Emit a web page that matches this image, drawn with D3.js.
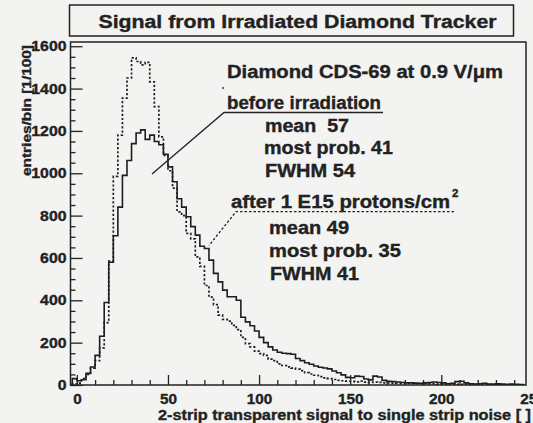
<!DOCTYPE html>
<html lang="en">
<head>
    <meta charset="UTF-8">
    <title>Signal from Irradiated Diamond Tracker</title>
    <style>
        body { margin: 0; background: #f3f3f1; }
        svg { display: block; font-family: "Liberation Sans", Arial, sans-serif; font-weight: bold; }
        svg text { stroke: #222; stroke-width: 0.35px; white-space: pre; }
        .axis text { font-family: "Liberation Sans", Arial, sans-serif; font-weight: bold; fill: #222; }
        .axis line { stroke: #222; stroke-width: 1.3; }
        .note { font-size: 18px; fill: #222; }
    </style>
</head>
<body>
    <svg width="533" height="423"></svg>
    <script src="https://cdn.jsdelivr.net/npm/d3@7"></script>
    <script>
        // histogram binning (signal/noise units)
        var binStart = -2.5,
            binWidth = 2.5;

        // entries per bin, before irradiation (solid)
        var beforeCounts = [30, 20, 25, 55, 85, 140, 230, 390, 580, 705,
            840, 990, 1060, 1140, 1190, 1205, 1160, 1180, 1150, 1135,
            1090, 1030, 960, 880, 840, 795, 748, 708, 655,
            645, 590, 527, 487, 448, 417, 417, 400, 320, 298,
            280, 255, 225, 200, 180, 165, 155, 150, 148, 145,
            125, 115, 105, 98, 90, 84, 80, 76, 66, 58,
            48, 36, 34, 42, 40, 28, 24, 42, 38, 22,
            18, 16, 14, 12, 10, 10, 9, 8, 10, 12,
            14, 12, 10, 6, 8, 16, 18, 10, 6, 5,
            6, 8, 5, 4, 6, 4, 3, 4, 3, 2];

        // entries per bin, after 1E15 protons/cm2 (dashed)
        var afterCounts = [5, 9, 30, 50, 80, 115, 175, 295, 585, 985,
            1180, 1355, 1450, 1545, 1528, 1512, 1524, 1432, 1315, 1172,
            1085, 1012, 930, 818, 800, 716, 690, 605, 560,
            470, 415, 380, 330, 310, 302, 282, 262, 225, 195,
            180, 160, 148, 140, 122, 115, 100, 92, 86, 80,
            75, 68, 58, 52, 46, 40, 34, 30, 26, 22,
            20, 18, 17, 15, 18, 14, 12, 14, 12, 10,
            10, 9, 8, 8, 7, 7, 6, 6, 6, 5,
            5, 4, 5, 4, 4, 3, 3, 4, 3, 2,
            2, 3, 2, 2, 1, 1, 1, 1, 1, 0];

        var xMajor = [0, 50, 100, 150, 200, 250],
            xMinor = [10, 20, 30, 40, 60, 70, 80, 90, 110, 120, 130, 140, 160, 170, 180, 190, 210, 220, 230, 240],
            yMajor = [0, 200, 400, 600, 800, 1000, 1200, 1400, 1600],
            yMinor = [50, 100, 150, 250, 300, 350, 450, 500, 550, 650, 700, 750, 850, 900, 950,
                      1050, 1100, 1150, 1250, 1300, 1350, 1450, 1500, 1550];

        var svg = d3.select("svg"),
            frame = {left: 70.5, top: 42, right: 526, bottom: 385};

        var x = d3.scaleLinear().domain([-3.5, 246.5]).range([frame.left, frame.right]),
            y = d3.scaleLinear().domain([0, 1620]).range([frame.bottom, frame.top]);

        // title box
        svg.append("rect")
            .attr("x", 69.5).attr("y", 5)
            .attr("width", 444).attr("height", 31)
            .attr("fill", "none").attr("stroke", "#222").attr("stroke-width", 1.5);

        svg.append("text")
            .attr("x", 98.5).attr("y", 28)
            .attr("font-size", 17.5).attr("fill", "#222")
            .attr("textLength", 398).attr("lengthAdjust", "spacingAndGlyphs")
            .text("Signal from Irradiated Diamond Tracker");

        svg.append("clipPath").attr("id", "plotclip")
            .append("rect")
            .attr("x", frame.left).attr("y", frame.top)
            .attr("width", frame.right - frame.left).attr("height", frame.bottom - frame.top);

        // step outline for a histogram
        function stepPoints(counts) {
            var pts = [[binStart, 0]];
            counts.forEach(function(c, i) {
                var lo = binStart + i * binWidth;
                pts.push([lo, c], [lo + binWidth, c]);
            });
            pts.push([binStart + counts.length * binWidth, 0]);
            return pts;
        }

        var line = d3.line()
            .x(function(d) { return x(d[0]); })
            .y(function(d) { return y(d[1]); });

        var plot = svg.append("g").attr("clip-path", "url(#plotclip)");

        plot.append("path")
            .attr("d", line(stepPoints(afterCounts)))
            .attr("fill", "none").attr("stroke", "#1e1e1e")
            .attr("stroke-width", 1.7).attr("stroke-dasharray", "2.2,2");

        plot.append("path")
            .attr("d", line(stepPoints(beforeCounts)))
            .attr("fill", "none").attr("stroke", "#1e1e1e")
            .attr("stroke-width", 1.6);

        // axes: ticks point inward like PAW
        var xAxis = svg.append("g").attr("class", "axis")
            .attr("transform", "translate(0," + frame.bottom + ")")
            .call(d3.axisBottom(x).tickValues(xMajor).tickSize(-10).tickPadding(9).tickFormat(d3.format("d")));
        xAxis.selectAll(".tick text")
            .attr("font-size", 14)
            .attr("textLength", function(d) { return String(d).length * 8.5; })
            .attr("lengthAdjust", "spacingAndGlyphs");
        xAxis.selectAll(".tick line").filter(function(d) { return d > 246.5; }).remove();

        svg.append("g").attr("class", "axis")
            .attr("transform", "translate(0," + frame.bottom + ")")
            .call(d3.axisBottom(x).tickValues(xMinor).tickSize(-5).tickFormat(""));

        var yAxis = svg.append("g").attr("class", "axis")
            .attr("transform", "translate(" + frame.left + ",0)")
            .call(d3.axisLeft(y).tickValues(yMajor).tickSize(-12).tickPadding(4).tickFormat(d3.format("d")));
        yAxis.selectAll(".tick text")
            .attr("font-size", 14)
            .attr("textLength", function(d) { return String(d).length * 8.8; })
            .attr("lengthAdjust", "spacingAndGlyphs");

        svg.append("g").attr("class", "axis")
            .attr("transform", "translate(" + frame.left + ",0)")
            .call(d3.axisLeft(y).tickValues(yMinor).tickSize(-5).tickFormat(""));

        svg.selectAll(".axis .domain").remove();

        // plot frame
        svg.append("rect")
            .attr("x", frame.left).attr("y", frame.top)
            .attr("width", frame.right - frame.left).attr("height", frame.bottom - frame.top)
            .attr("fill", "none").attr("stroke", "#222").attr("stroke-width", 1.5);

        // axis titles
        svg.append("text")
            .attr("x", 531).attr("y", 420)
            .attr("text-anchor", "end")
            .attr("font-size", 14).attr("fill", "#222")
            .attr("textLength", 373).attr("lengthAdjust", "spacingAndGlyphs")
            .text("2-strip transparent signal to single strip noise [ ]");

        svg.append("text")
            .attr("transform", "translate(31,176) rotate(-90)")
            .attr("font-size", 13.5).attr("fill", "#222")
            .attr("textLength", 131).attr("lengthAdjust", "spacingAndGlyphs")
            .text("entries/bin [1/100]");

        // annotations
        var notes = [
            {t: "Diamond CDS-69 at 0.9 V/\u03bcm", x: 227, y: 77.5, w: 276},
            {t: "before irradiation", x: 227, y: 109, w: 154},
            {t: "mean  57", x: 265, y: 132, w: 84},
            {t: "most prob. 41", x: 264, y: 154, w: 129},
            {t: "FWHM 54", x: 265, y: 177, w: 90},
            {t: "after 1 E15 protons/cm", x: 231, y: 207.5, w: 219},
            {t: "mean 49", x: 269, y: 234, w: 80},
            {t: "most prob. 35", x: 269, y: 257, w: 132},
            {t: "FWHM 41", x: 270, y: 280, w: 89}
        ];

        svg.selectAll(".note")
            .data(notes)
            .enter()
            .append("text")
            .attr("class", "note")
            .attr("x", function(d) { return d.x; })
            .attr("y", function(d) { return d.y; })
            .attr("textLength", function(d) { return d.w; })
            .attr("lengthAdjust", "spacingAndGlyphs")
            .text(function(d) { return d.t; });

        svg.append("text")
            .attr("x", 452).attr("y", 197)
            .attr("font-size", 11.5).attr("fill", "#222")
            .text("2");

        svg.append("circle").attr("cx", 223).attr("cy", 88).attr("r", 1).attr("fill", "#333");

        // leader lines
        svg.append("polyline")
            .attr("points", "383,112.5 224,112.5 152,174")
            .attr("fill", "none").attr("stroke", "#222").attr("stroke-width", 1.3);

        svg.append("polyline")
            .attr("points", "454,211.6 236,211.6 209,245.6")
            .attr("fill", "none").attr("stroke", "#222").attr("stroke-width", 1.3)
            .attr("stroke-dasharray", "2.5,2");
    </script>
</body>
</html>
